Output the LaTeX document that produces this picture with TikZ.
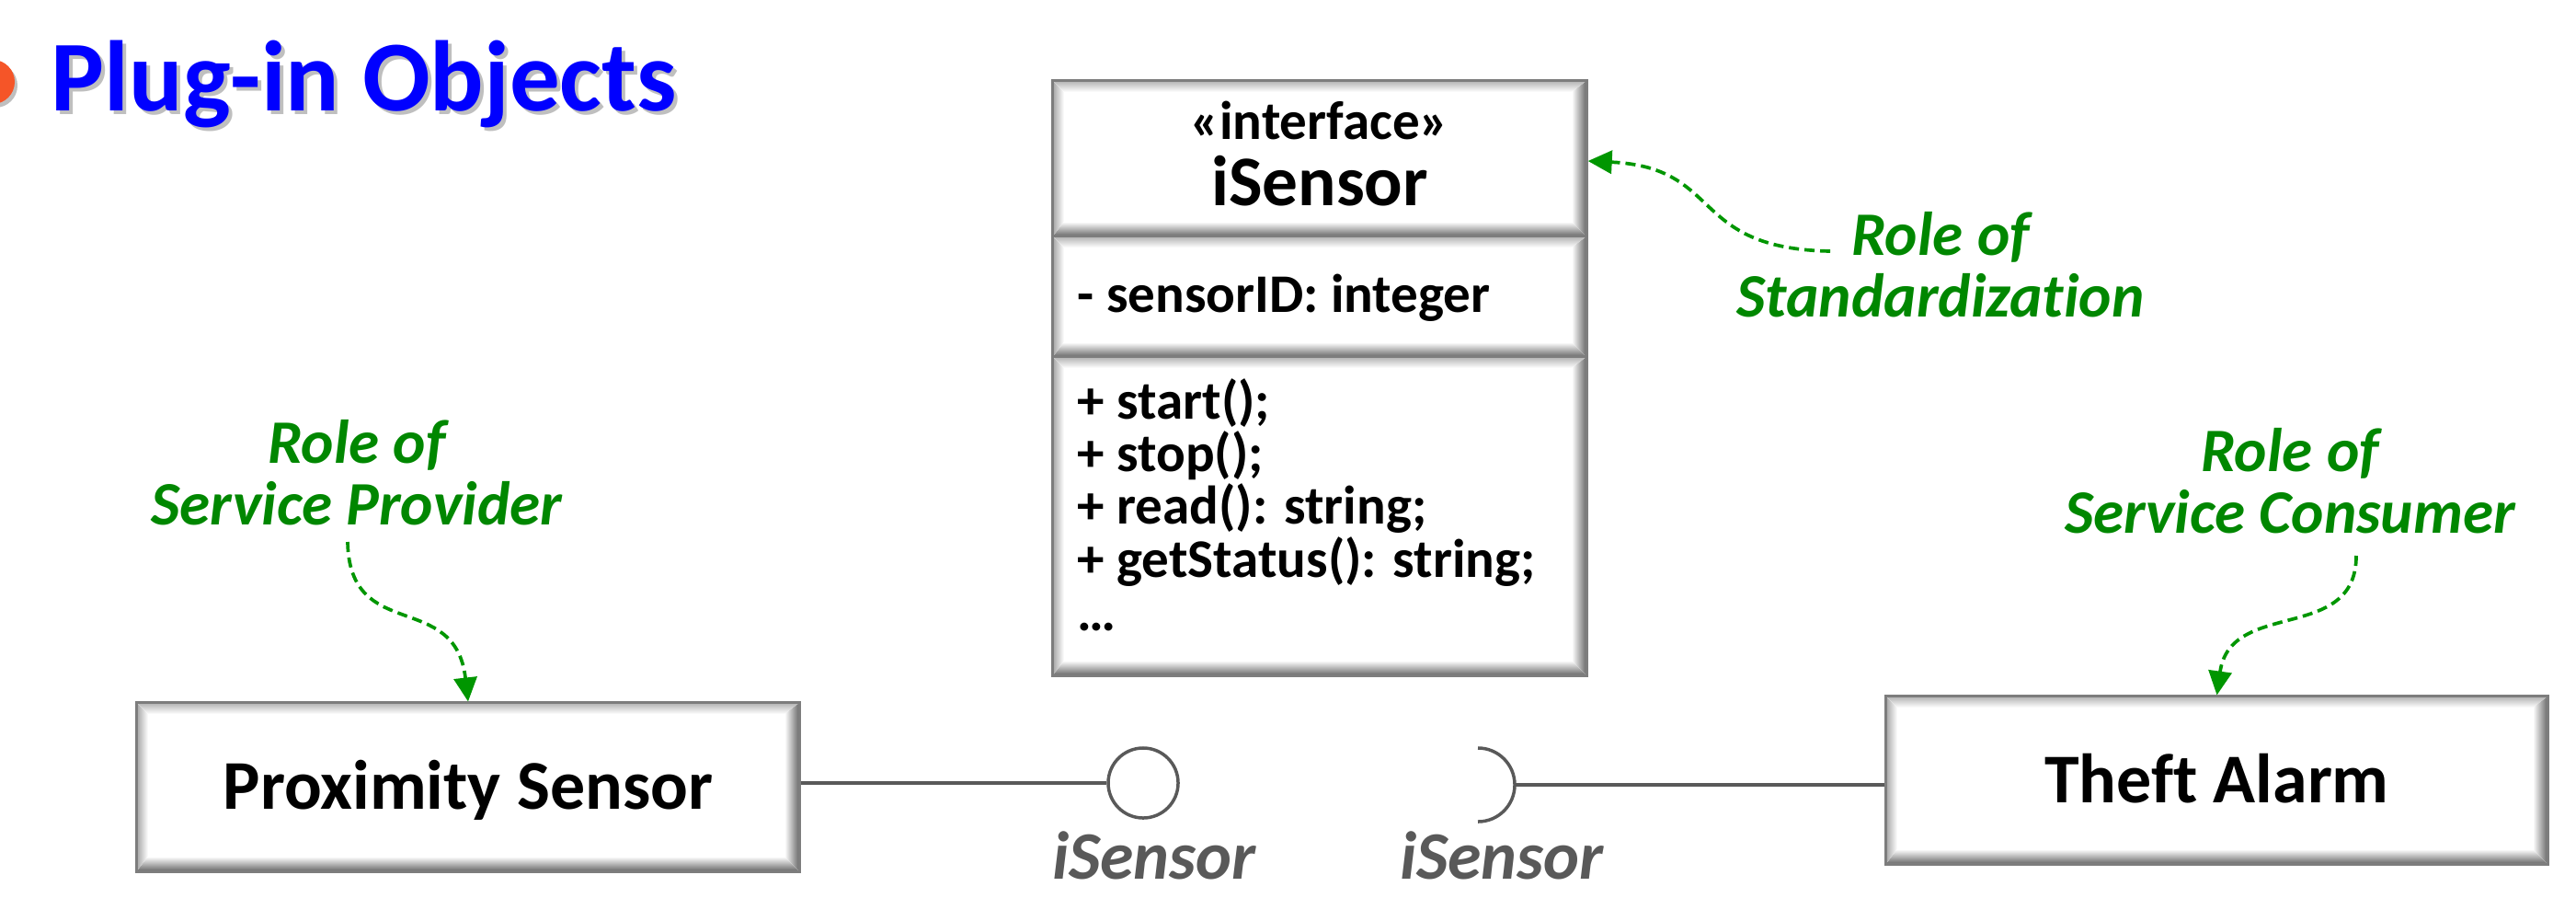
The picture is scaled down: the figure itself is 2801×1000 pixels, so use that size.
\documentclass[tikz,border=0pt]{standalone}
\usepackage{fontspec}
\setmainfont{Carlito}[Ligatures=CommonOff]
\usetikzlibrary{arrows.meta}
\definecolor{ttlblue}{RGB}{0,0,255}
\definecolor{bulletorange}{RGB}{245,85,40}
\definecolor{rolegreen}{RGB}{0,135,0}
\definecolor{arrgreen}{RGB}{0,150,0}
\definecolor{conngray}{RGB}{89,89,89}
\definecolor{edgegray}{RGB}{125,125,125}
\newcommand\fsz[2]{\fontsize{#1}{#2}\selectfont}
\tikzset{
  bevelbox/.style={draw=edgegray, line width=0.03cm, fill=white, inner sep=0pt,
    path picture={
      \path (path picture bounding box.north west) coordinate (bNW)
            (path picture bounding box.north east) coordinate (bNE)
            (path picture bounding box.south west) coordinate (bSW)
            (path picture bounding box.south east) coordinate (bSE)
            ([xshift=0.12cm,yshift=-0.12cm]bNW) coordinate (iNW)
            ([xshift=-0.16cm,yshift=-0.12cm]bNE) coordinate (iNE)
            ([xshift=0.12cm,yshift=0.16cm]bSW) coordinate (iSW)
            ([xshift=-0.16cm,yshift=0.16cm]bSE) coordinate (iSE);
      \fill[top color=black!30, bottom color=white] (bNW) -- (bNE) -- (iNE) -- (iNW) -- cycle;
      \fill[left color=black!35, right color=white] (bNW) -- (iNW) -- (iSW) -- (bSW) -- cycle;
      \fill[left color=white, right color=black!60] (bNE) -- (bSE) -- (iSE) -- (iNE) -- cycle;
      \fill[top color=white, bottom color=black!60] (bSW) -- (iSW) -- (iSE) -- (bSE) -- cycle;
      \draw[black!80, line width=0.025cm] (bNE) -- (bSE);
    }},
  boxtext/.style={font=\fsz{21.6pt}{25pt}\bfseries, text height=0.48cm, text depth=0pt},
  roletext/.style={font=\fsz{19.1pt}{19pt}\bfseries\itshape, text=rolegreen, align=center, inner sep=0pt},
  rolearrow/.style={draw=arrgreen, line width=0.037cm, dash pattern=on 0.11cm off 0.06cm,
    -{Triangle[length=0.26cm, width=0.25cm]}},
  conn/.style={draw=conngray, line width=0.035cm},
  ifacelbl/.style={font=\fsz{21pt}{25pt}\bfseries\itshape, text=conngray, inner sep=0pt, anchor=base},
  membertext/.style={font=\fsz{16.8pt}{16pt}\bfseries, inner sep=0pt, anchor=base west},
}
\begin{document}
\begin{tikzpicture}[x=0.01cm, y=-0.01cm]
\useasboundingbox (0,0) rectangle (2801,1000);

% title
\begin{scope}
  \clip (0,0) rectangle (2801,1000);
  \fill[black!25] (-5,93) circle[radius=0.24cm];
  \fill[bulletorange] (-8,89) circle[radius=0.24cm];
\end{scope}
\node[anchor=base west, inner sep=0pt, font=\fsz{31pt}{36pt}\bfseries, text=black!25] (titleshadow) at (59,124) {Plug-in Objects};
\node[anchor=base west, inner sep=0pt, font=\fsz{31pt}{36pt}\bfseries, text=ttlblue] (title) at (55,120) {Plug-in Objects};

% interface class box
\node[bevelbox, minimum width=5.8cm, minimum height=1.69cm] (ihead) at (1435,172.5) {};
\node[bevelbox, minimum width=5.8cm, minimum height=1.31cm] (iattr) at (1435,322.5) {};
\node[bevelbox, minimum width=5.8cm, minimum height=3.46cm] (imeth) at (1435,561) {};
\node[anchor=base, inner sep=0pt, font=\fsz{16.8pt}{18pt}\bfseries] (stereo) at (1435,151.5) {«interface»};
\node[anchor=base, inner sep=0pt, font=\fsz{22pt}{25pt}\bfseries] (iname) at (1435,223) {iSensor};
\node[membertext] (attr) at (1171,339) {- sensorID: integer};
\node[membertext] (m1) at (1171,455) {+ start();};
\node[membertext] (m2) at (1171,512) {+ stop();};
\node[membertext] (m3) at (1171,569) {+ read(): string;};
\node[membertext] (m4) at (1171,627) {+ getStatus(): string;};
\node[membertext] (m5) at (1171,685) {…};

% components
\node[bevelbox, boxtext, minimum width=7.2cm, minimum height=1.83cm] (prox) at (509,855.5) {Proximity Sensor};
\node[bevelbox, boxtext, minimum width=7.19cm, minimum height=1.82cm] (theft) at (2410.5,848) {Theft Alarm};

% provided interface (lollipop)
\node[circle, conn, minimum size=0.76cm, inner sep=0pt] (ball) at (1243,851) {};
\draw[conn] (prox.east |- ball.west) -- (ball.west);
\node[ifacelbl] (lblball) at (1255,955) {iSensor};

% required interface (socket)
\coordinate (sock) at (1607,853);
\draw[conn] ([yshift=-0.4cm]sock) arc[start angle=-90, end angle=90, radius=0.4cm];
\draw[conn] ([xshift=0.4cm]sock) -- (sock -| theft.west);
\node[ifacelbl] (lblsock) at (1633,955) {iSensor};

% role labels
\node[roletext] (roleprov) at (388,514) {Role of\\Service Provider};
\node[roletext] (rolestd) at (2110,288) {Role of\\Standardization};
\node[roletext] (rolecons) at (2490,523) {Role of\\Service Consumer};

\coordinate (provS) at (378,589);
\coordinate (stdS) at (1990,273);
\coordinate (consS) at (2562,604);
\draw[rolearrow] (provS) .. controls (380,700) and (495,640) .. (prox.north);
\draw[rolearrow] (consS) .. controls (2562,700) and (2425,650) .. (theft.north);
\draw[rolearrow] (stdS) .. controls (1835,270) and (1875,182) .. (ihead.east |- 0,175);
\end{tikzpicture}
\end{document}
